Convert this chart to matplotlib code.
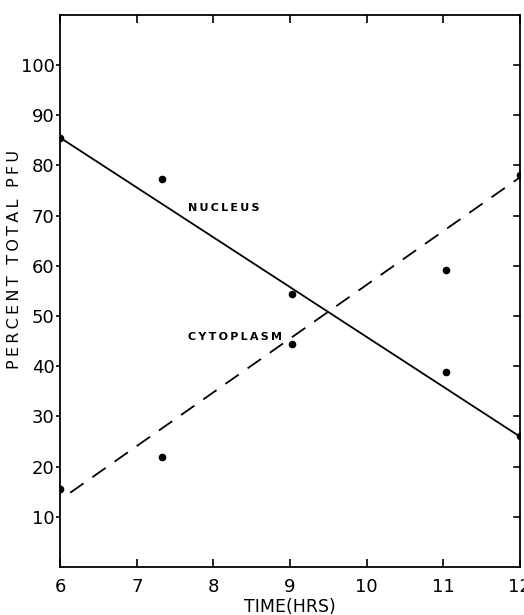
import matplotlib
matplotlib.use("Agg")
import matplotlib.pyplot as plt

# data
time_hrs = [6.0, 7.33, 9.02, 11.03, 12.0]
nucleus = [85.5, 77.2, 54.3, 38.9, 26.0]
cytoplasm = [15.5, 22.0, 44.5, 59.2, 78.0]

# fitted lines drawn on the figure (end points)
nuc_fit_x = [6.0, 12.0]
nuc_fit_y = [85.5, 26.0]
cyt_fit_x = [6.13, 12.0]
cyt_fit_y = [14.8, 77.6]

x_ticks = [6, 7, 8, 9, 10, 11, 12]
y_ticks = [10, 20, 30, 40, 50, 60, 70, 80, 90, 100]


def spaced(s):
    # letter spacing like the original lettering
    return "\u2009".join(s)


fig = plt.figure(figsize=(5.24, 6.15), dpi=100)
ax = fig.add_axes([0.115, 0.078, 0.877, 0.898])

ax.plot(nuc_fit_x, nuc_fit_y, color="black", lw=1.3)
ax.plot(cyt_fit_x, cyt_fit_y, color="black", lw=1.3, dashes=(9, 6))
ax.plot(time_hrs, nucleus, "o", color="black", ms=4.5)
ax.plot(time_hrs, cytoplasm, "o", color="black", ms=4.5)

ax.text(7.67, 71.6, spaced("NUCLEUS"), fontsize=8, fontweight="bold", va="center")
ax.text(7.67, 45.9, spaced("CYTOPLASM"), fontsize=8, fontweight="bold", va="center")

ax.set_xlim(6, 12)
ax.set_ylim(0, 110)
ax.set_xticks(x_ticks)
ax.set_yticks(y_ticks)
ax.tick_params(axis="x", direction="in", top=True, length=6, width=1.2,
               labelsize=13, pad=8)
ax.tick_params(axis="y", direction="out", length=3, width=1.2,
               labelsize=13, pad=1)
for s in ax.spines.values():
    s.set_linewidth(1.3)

# inward ticks on the right edge
for y in y_ticks:
    ax.plot([11.93, 12.0], [y, y], color="black", lw=1.2, clip_on=False)

ax.set_xlabel("TIME(HRS)", fontsize=12.5, labelpad=1)
ax.set_ylabel(spaced("PERCENT TOTAL PFU"), fontsize=11.5)
ax.yaxis.set_label_coords(-0.083, 0.556)

fig.savefig("out.png", dpi=100)
